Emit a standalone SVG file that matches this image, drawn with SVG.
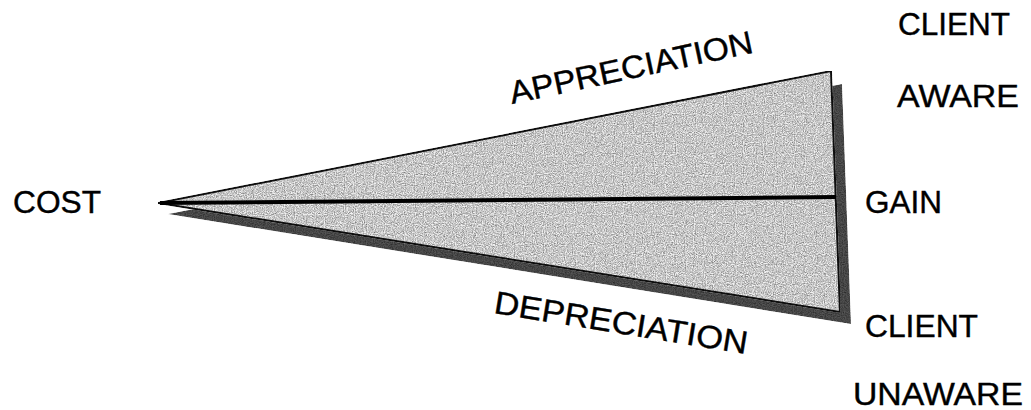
<svg xmlns="http://www.w3.org/2000/svg" width="1031" height="410" viewBox="0 0 1031 410">
  <defs>
    <filter id="grain" x="0" y="0" width="1" height="1" color-interpolation-filters="sRGB">
      <feTurbulence type="fractalNoise" baseFrequency="0.9" numOctaves="2" seed="3" result="n"/>
      <feColorMatrix in="n" type="saturate" values="0" result="g"/>
      <feComponentTransfer in="g" result="m">
        <feFuncR type="linear" slope="1.1" intercept="0.27"/>
        <feFuncG type="linear" slope="1.1" intercept="0.27"/>
        <feFuncB type="linear" slope="1.1" intercept="0.27"/>
        <feFuncA type="linear" slope="0" intercept="1"/>
      </feComponentTransfer>
      <feBlend in="SourceGraphic" in2="m" mode="multiply" result="b"/>
      <feComposite in="b" in2="SourceGraphic" operator="in"/>
    </filter>
  </defs>
  <style>
    .lbl { font-family: "Liberation Sans", Arial, sans-serif; font-size: 32px; fill: #000; stroke: #000; stroke-width: 0.4; }
    .wedge { fill: #f2f2f2; stroke: #111; stroke-width: 2; stroke-linejoin: miter; }
    .shadow { fill: #555; }
  </style>
  <rect width="1031" height="410" fill="#fff"/>
  <g id="wedge">
    <polygon class="shadow" points="168,214 842,84 851,324" filter="url(#grain)"/>
    <polygon class="wedge" points="158,203 831,71 840,312" filter="url(#grain)"/>
    <line x1="160" y1="203" x2="836" y2="197" stroke="#000" stroke-width="4"/>
  </g>
  <g id="labels">
    <text class="lbl" x="13" y="213" textLength="88" lengthAdjust="spacingAndGlyphs">COST</text>
    <text class="lbl" x="865" y="213" textLength="77" lengthAdjust="spacingAndGlyphs">GAIN</text>
    <text class="lbl" x="898" y="35" textLength="112" lengthAdjust="spacingAndGlyphs">CLIENT</text>
    <text class="lbl" x="897" y="107" textLength="122" lengthAdjust="spacingAndGlyphs">AWARE</text>
    <text class="lbl" x="865" y="337" textLength="113" lengthAdjust="spacingAndGlyphs">CLIENT</text>
    <text class="lbl" x="853" y="405" textLength="170" lengthAdjust="spacingAndGlyphs">UNAWARE</text>
    <text class="lbl" transform="translate(512,104) rotate(-12)" textLength="248" lengthAdjust="spacingAndGlyphs">APPRECIATION</text>
    <text class="lbl" transform="translate(493,313) rotate(9.2)" textLength="256" lengthAdjust="spacingAndGlyphs">DEPRECIATION</text>
  </g>
</svg>
